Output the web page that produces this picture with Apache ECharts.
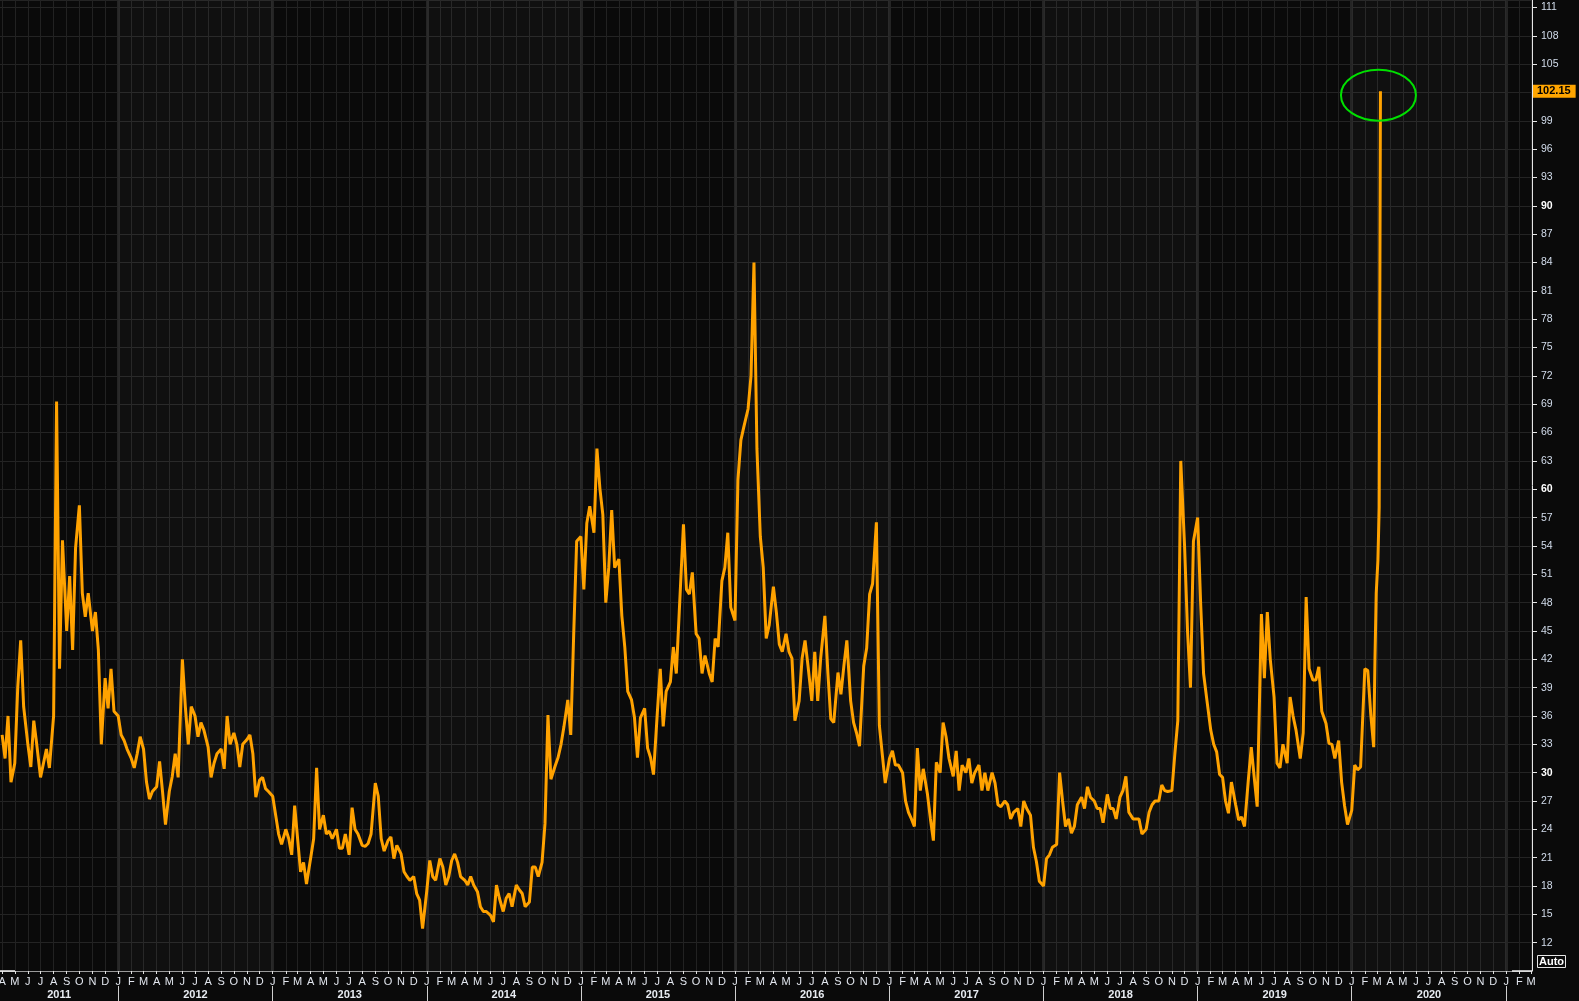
<!DOCTYPE html>
<html>
<head>
<meta charset="utf-8">
<title>Volatility index</title>
<script src="https://cdn.jsdelivr.net/npm/echarts@6/dist/echarts.min.js"></script>
<style>
  html, body { margin: 0; padding: 0; background: #0a0a0a; }
  #main { width: 1579px; height: 1001px; }
</style>
</head>
<body>
<div id="main"></div>
<script>
// weekly readings: each month sampled on the 1st, 8th, 15th and 22nd
const weekDays = [1, 8, 15, 22]
const monthLetters = ['J', 'F', 'M', 'A', 'M', 'J', 'J', 'A', 'S', 'O', 'N', 'D']
const yearLabels = [2011, 2012, 2013, 2014, 2015, 2016, 2017, 2018, 2019, 2020]

// 2011 starts in April
const v2011 = [34, 31.5, 36, 29, 31, 39, 44, 37, 33, 30.6, 35.5, 33,
  29.5, 31, 32.5, 30.5, 36, 69.3, 41, 54.6, 45, 50.8, 43, 53.8,
  58.3, 49, 46.5, 49, 45, 47, 43, 33, 40, 36.8, 41, 36.5]
const v2012 = [36, 34, 33.4, 32.5, 31.5, 30.5, 32, 33.8, 32.5, 29, 27.2, 28,
  28.5, 31.2, 28, 24.5, 28, 29.6, 32, 29.5, 42, 37, 33, 37,
  36, 33.8, 35.3, 34.5, 32.7, 29.5, 31, 32, 32.5, 30.4, 36, 33,
  34.2, 33, 30.6, 33, 33.5, 34, 32, 27.4, 29.2, 29.5, 28.3, 28]
const v2013 = [27.5, 25.5, 23.5, 22.4, 24, 23, 21.3, 26.5, 23, 19.5, 20.5, 18.2,
  21, 23, 30.5, 24, 25.5, 23.5, 23.8, 23, 24, 22, 22, 23.5,
  21.3, 26.3, 24, 23.5, 22.3, 22.2, 22.5, 23.5, 28.9, 27.5, 23, 21.7,
  22.8, 23.2, 20.9, 22.3, 21.4, 19.5, 19, 18.6, 19, 17.2, 16.5, 13.5]
const v2014 = [17.5, 20.7, 19, 18.6, 20.9, 20, 18.1, 19, 20.7, 21.4, 20.5, 19,
  18.6, 18.1, 19, 18.1, 17.4, 15.8, 15.3, 15.3, 14.9, 14.2, 18.1, 16.7,
  15.3, 16.7, 17.2, 15.8, 18.1, 17.6, 17.2, 15.8, 16.3, 20, 20, 19,
  20.5, 24.6, 36.1, 29.3, 30.7, 31.6, 33, 34.9, 37.7, 34, 44.7, 54.5]
const v2015 = [55, 49.4, 56.4, 58.2, 55.4, 64.3, 60.1, 57.3, 48, 51.7, 57.8, 51.7,
  52.6, 46.6, 43.3, 38.6, 37.7, 35.8, 31.6, 35.8, 36.8, 32.6, 31.6, 29.8,
  36.3, 41, 34.9, 38.6, 39.6, 43.3, 40.5, 47, 56.3, 49.4, 48.9, 51.2,
  44.7, 44.2, 40.5, 42.4, 40.5, 39.6, 44.2, 43.3, 50.3, 51.7, 55.4, 47.5]
const v2016 = [46.1, 61, 65.2, 66.6, 68.5, 72, 84, 64.3, 55, 51.7, 44.2, 45.6,
  49.7, 47, 43.6, 42.8, 44.7, 42.8, 42.1, 35.5, 37.6, 42.1, 44, 41.3,
  37.6, 42.8, 37.6, 42.1, 46.6, 40.6, 35.7, 35.3, 40.6, 38.3, 41.3, 44,
  37.6, 35.3, 34.2, 32.8, 41.3, 43.2, 48.9, 50, 56.5, 35, 31.9, 28.9]
const v2017 = [31.5, 32.3, 30.8, 30.8, 30, 27, 25.8, 25.1, 24.3, 32.6, 28.1, 30.4,
  27.7, 25.1, 22.8, 31.1, 30, 35.3, 33.8, 31.5, 29.6, 32.3, 28.1, 30.8,
  30, 31.5, 28.9, 30, 30.8, 28.1, 30, 28.1, 30, 28.9, 26.6, 26.4,
  27, 26.6, 25.1, 25.8, 26.2, 24.3, 27, 26.2, 25.5, 22.1, 20.6, 18.5]
const v2018 = [18, 20.9, 21.3, 22.1, 22.4, 30, 27, 24.3, 25.1, 23.6, 24.3, 26.6,
  27.4, 26.2, 28.5, 27.4, 27, 26.2, 26.2, 24.7, 27.7, 26.2, 26.2, 25.1,
  27.4, 28.1, 29.6, 25.8, 25.1, 25.1, 25.1, 23.5, 24, 25.8, 26.6, 27,
  27, 28.7, 28.1, 28, 28.1, 32, 35.5, 63, 54, 45, 39, 54.5]
const v2019 = [57, 48, 40.5, 38, 34.5, 33, 32.2, 29.8, 29.5, 27, 25.7, 29,
  26.6, 25, 25.3, 24.3, 29.2, 32.7, 29.5, 26.4, 46.8, 40, 47, 42,
  38, 31, 30.5, 33, 31, 38, 36, 34.5, 31.5, 34.2, 48.6, 41,
  39.8, 39.8, 41.2, 36.5, 35.2, 33.1, 33, 31.5, 33.4, 29, 26.5, 24.5]
const v2020 = [26, 30.8, 30.3, 30.6, 41, 40.8, 36.2, 32.7]

// the last days are read day by day
const spikeDates = ['2020-02-25', '2020-02-28', '2020-03-03', '2020-03-06', '2020-03-09']
const spikeValues = [42, 49, 52.5, 58, 102.15]

const axisMin = Date.UTC(2011, 2, 27)
const axisMax = Date.UTC(2021, 2, 3)

const yearly = [
  [2011, 3, v2011], [2012, 0, v2012], [2013, 0, v2013], [2014, 0, v2014],
  [2015, 0, v2015], [2016, 0, v2016], [2017, 0, v2017], [2018, 0, v2018],
  [2019, 0, v2019], [2020, 0, v2020]
]

const points = []
yearly.forEach(([year, firstMonth, vals]) => {
  vals.forEach((v, i) => {
    points.push([Date.UTC(year, firstMonth + Math.floor(i / 4), weekDays[i % 4]), v])
  })
})
spikeDates.forEach((d, i) => points.push([new Date(d).getTime(), spikeValues[i]]))

const lastPoint = points[points.length - 1]

// month starts and year starts inside the visible range
const monthTicks = []
const yearTicks = []
for (let y = 2011; y <= 2021; y++) {
  for (let m = 0; m < 12; m++) {
    const t = Date.UTC(y, m, 1)
    if (t < axisMin || t > axisMax) continue
    monthTicks.push(t)
    if (m === 0) yearTicks.push(t)
  }
}
const yearMids = yearLabels.map(y => {
  const a = Math.max(Date.UTC(y, 0, 1), axisMin)
  const b = Math.min(Date.UTC(y + 1, 0, 1), axisMax)
  return (a + b) / 2
})
const lightYears = yearLabels.filter(y => y % 2 === 0).map(y => [
  { xAxis: Date.UTC(y, 0, 1) }, { xAxis: Date.UTC(y + 1, 0, 1) }
])

const chart = echarts.init(document.getElementById('main'))

const option = {
  backgroundColor: '#0a0a0a',
  animation: false,
  textStyle: { fontFamily: 'Liberation Sans' },
  grid: { left: 0, right: 47, top: 0, bottom: 30, containLabel: false, outerBoundsMode: 'none' },
  xAxis: [
    {
      type: 'value',
      min: axisMin,
      max: axisMax,
      axisLine: { show: true, lineStyle: { color: '#9a9a9a', width: 1 } },
      axisTick: { show: true, customValues: monthTicks, length: 3, lineStyle: { color: '#e0e0e0' } },
      axisLabel: {
        customValues: monthTicks,
        margin: 5,
        color: '#e2e6ee',
        fontSize: 11,
        formatter: v => monthLetters[new Date(v).getUTCMonth()]
      },
      splitLine: { show: true, lineStyle: { color: '#222222', width: 1 } }
    },
    {
      type: 'value',
      min: axisMin,
      max: axisMax,
      position: 'bottom',
      offset: 15,
      axisLine: { show: false },
      axisTick: { show: true, customValues: yearTicks, length: 15, lineStyle: { color: '#cfcfcf' } },
      axisLabel: {
        customValues: yearMids,
        margin: 3,
        color: '#e8ecf2',
        fontSize: 11,
        fontWeight: 'bold',
        formatter: v => String(new Date(v).getUTCFullYear())
      },
      splitLine: { show: true, lineStyle: { color: '#242424', width: 3 } }
    }
  ],
  yAxis: {
    type: 'value',
    position: 'right',
    min: 9,
    max: 111.8,
    interval: 3,
    axisLine: { show: true, lineStyle: { color: '#e6e6e6', width: 1 } },
    axisTick: { show: true, length: 5, lineStyle: { color: '#e6e6e6' } },
    axisLabel: {
      showMinLabel: false,
      showMaxLabel: false,
      margin: 9,
      color: '#d3ddec',
      fontSize: 10.5,
      formatter: v => (v % 30 === 0 ? '{b|' + v + '}' : String(v)),
      rich: { b: { fontWeight: 'bold', color: '#ffffff', fontSize: 10.5 } }
    },
    splitLine: { show: true, lineStyle: { color: '#242424', width: 1 } }
  },
  series: [
    {
      type: 'line',
      data: points,
      showSymbol: false,
      symbol: 'none',
      lineStyle: { color: '#ffa200', width: 3 },
      markArea: {
        silent: true,
        itemStyle: { color: 'rgba(255,255,255,0.027)' },
        data: lightYears
      },
      markLine: {
        silent: true,
        symbol: ['none', 'none'],
        lineStyle: { color: 'rgba(0,0,0,0)', width: 1, type: 'solid' },
        label: {
          show: true,
          position: 'end',
          distance: 1,
          formatter: p => Number(p.value).toFixed(2),
          backgroundColor: '#ffa500',
          color: '#000000',
          fontWeight: 'bold',
          fontSize: 11,
          lineHeight: 12,
          padding: [1, 5, 0, 4]
        },
        data: [{ yAxis: lastPoint[1] }]
      },
      z: 3
    }
  ]
}

chart.setOption(option)

const px = chart.convertToPixel({ seriesIndex: 0 }, lastPoint)
const axisY = chart.convertToPixel({ yAxisIndex: 0 }, 9)
const axisRight = chart.convertToPixel({ xAxisIndex: 0 }, axisMax)
chart.setOption({
  graphic: [
    {
      type: 'ellipse',
      shape: { cx: px[0] - 2, cy: px[1] + 4, rx: 37.5, ry: 25.5 },
      style: { fill: 'none', stroke: '#00e000', lineWidth: 2 },
      z: 100
    },
    {
      type: 'line',
      shape: { x1: 0, y1: axisY, x2: 15, y2: axisY },
      style: { stroke: '#f0f0f0', lineWidth: 1.5 },
      z: 100
    },
    {
      type: 'line',
      shape: { x1: axisRight - 20, y1: axisY, x2: axisRight, y2: axisY },
      style: { stroke: '#f0f0f0', lineWidth: 1.5 },
      z: 100
    },
    {
      type: 'group',
      right: 11,
      bottom: 31,
      children: [
        { type: 'rect', shape: { x: 0, y: 0, width: 28, height: 12 }, style: { fill: 'none', stroke: '#e6e6e6', lineWidth: 1 } },
        { type: 'text', x: 14, y: 6, style: { text: 'Auto', fill: '#ffffff', font: 'bold 11px Liberation Sans', align: 'center', verticalAlign: 'middle' } }
      ]
    }
  ]
})
</script>
</body>
</html>
